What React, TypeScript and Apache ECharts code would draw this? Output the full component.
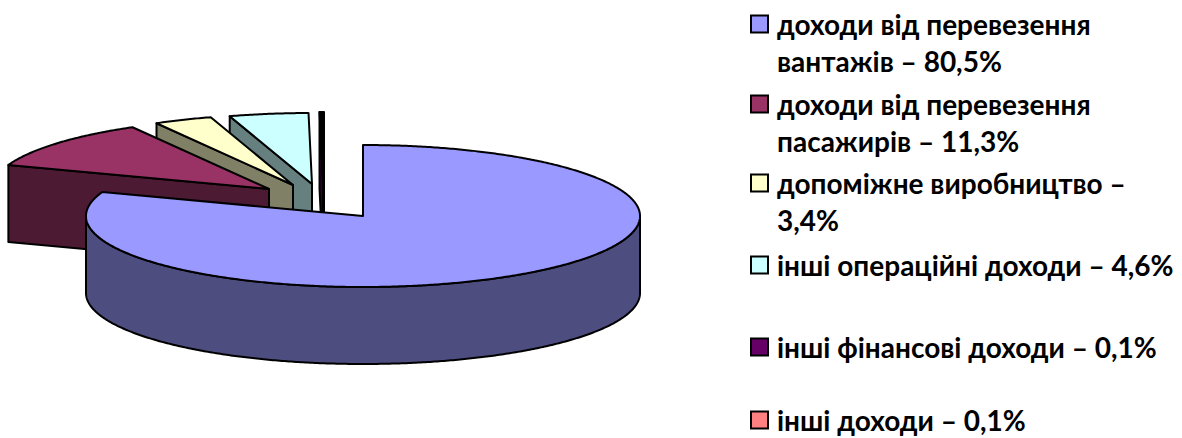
import React, { useEffect, useRef } from 'react';
import * as echarts from 'echarts';

// ---- data ----
const CATEGORIES = [
  'доходи від перевезення вантажів',
  'доходи від перевезення пасажирів',
  'допоміжне виробництво',
  'інші операційні доходи',
  'інші фінансові доходи',
  'інші доходи',
];
const SHARES = [80.5, 11.3, 3.4, 4.6, 0.1, 0.1];
const SHARE_LABELS = ['80,5%', '11,3%', '3,4%', '4,6%', '0,1%', '0,1%'];
// words after which the legend text wraps (0 = single line)
const WRAP_AFTER_WORDS = [3, 3, 3, 0, 0, 0];

// ---- style ----
const TOP_COLORS = ['#9999FF', '#993366', '#FFFFCC', '#CCFFFF', '#660066', '#FF8080'];
// exploded offsets of each slice on screen (px)
const EXPLODE: [number, number][] = [
  [0, 0],
  [-94, -27],
  [-70, -31],
  [-51, -32],
  [-40, -33],
  [-39, -33],
];
const CX = 363;
const CY = 216;
const RX = 277;
const RY = 71;
const DEPTH = 77;
const FONT = 'Lato, "Noto Sans", sans-serif';
const FONT_SIZE = 28;
const LINE_H = 37;
const LINE_H_SINGLE = 30;
const LEGEND_LEFT = 750;
const LEGEND_FIRST_LINE_Y = [24, 104, 183, 265, 347, 420];

const TOTAL = SHARES.reduce((s, v) => s + v, 0);
const STARTS = SHARES.map((_, i) => SHARES.slice(0, i).reduce((s, v) => s + v, 0));

function shade(hex: string, f: number): string {
  const n = parseInt(hex.slice(1), 16);
  const r = Math.round(((n >> 16) & 255) * f);
  const g = Math.round(((n >> 8) & 255) * f);
  const b = Math.round((n & 255) * f);
  return `rgb(${r},${g},${b})`;
}

// two-line entries get a leading empty line so the icon sits beside the first line
function legendText(i: number): string {
  const words = `${CATEGORIES[i]} – ${SHARE_LABELS[i]}`.split(' ');
  const k = WRAP_AFTER_WORDS[i];
  if (!k) return words.join(' ');
  return '\n' + words.slice(0, k).join(' ') + '\n' + words.slice(k).join(' ');
}

const makeRender = (i: number) => (params: any, api: any) => {
  const share = api.value(0) as number;
  const start = api.value(1) as number;
  const a = (start / TOTAL) * Math.PI * 2;
  const b = ((start + share) / TOTAL) * Math.PI * 2;
  const [ox, oy] = EXPLODE[i];
  const pt = (t: number, z: number) => [CX + ox + RX * Math.sin(t), CY + oy - RY * Math.cos(t) + z];
  const apex = (z: number) => [CX + ox, CY + oy + z];
  const arc = (t0: number, t1: number, z: number) => {
    const n = Math.max(2, Math.ceil((t1 - t0) / (Math.PI / 360)));
    const out: number[][] = [];
    for (let k = 0; k <= n; k++) out.push(pt(t0 + ((t1 - t0) * k) / n, z));
    return out;
  };
  const topColor = api.visual('color') || TOP_COLORS[i];
  const sideColor = shade(TOP_COLORS[i], 0.5);
  const line = { stroke: '#000', lineWidth: 2, lineJoin: 'round' };
  const rank = i === 0 ? 100 : 10 - i; // back slices first
  const children: any[] = [];
  // start radial face
  if (a > Math.PI && a < Math.PI * 2) {
    children.push({
      type: 'polygon',
      z2: rank * 10 + 1,
      shape: { points: [apex(0), pt(a, 0), pt(a, DEPTH), apex(DEPTH)] },
      style: { fill: sideColor, ...line },
    });
  }
  // end radial face
  if (b > 0 && b < Math.PI) {
    children.push({
      type: 'polygon',
      z2: rank * 10 + 1,
      shape: { points: [apex(0), pt(b, 0), pt(b, DEPTH), apex(DEPTH)] },
      style: { fill: sideColor, ...line },
    });
  }
  // front outer wall
  const s = Math.max(a, Math.PI / 2);
  const e = Math.min(b, (Math.PI * 3) / 2);
  if (e > s) {
    const pts = arc(s, e, 0).concat(arc(s, e, DEPTH).reverse());
    children.push({
      type: 'polygon',
      z2: rank * 10 + 2,
      shape: { points: pts },
      style: { fill: sideColor, ...line },
    });
  }
  // top face
  children.push({
    type: 'polygon',
    z2: rank * 10 + 3,
    shape: { points: [apex(0), ...arc(a, b, 0)] },
    style: { fill: topColor, ...line },
  });
  return { type: 'group', children };
};

export default function App() {
  const ref = useRef<HTMLDivElement>(null);
  useEffect(() => {
    document.body.style.margin = '0';
    if (!ref.current) return;
    const chart = echarts.init(ref.current, null, { renderer: 'svg' });
    chart.setOption({
      animation: false,
      backgroundColor: '#ffffff',
      legend: CATEGORIES.map((name, i) => {
        const multi = !!WRAP_AFTER_WORDS[i];
        const lh = multi ? LINE_H : LINE_H_SINGLE;
        const blockH = multi ? 3 * LINE_H : LINE_H_SINGLE;
        return {
          data: [name],
          orient: 'vertical',
          left: LEGEND_LEFT,
          top: LEGEND_FIRST_LINE_Y[i] - blockH / 2,
          padding: 0,
          icon: 'rect',
          itemWidth: 17,
          itemHeight: 17,
          selectedMode: false,
          itemStyle: { borderColor: '#000', borderWidth: 2 },
          formatter: () => legendText(i),
          textStyle: {
            fontFamily: FONT,
            fontWeight: 'bold',
            fontSize: FONT_SIZE,
            color: '#000',
            lineHeight: lh,
            padding: [0, 0, 0, 4],
          },
        };
      }),
      series: CATEGORIES.map((name, i) => ({
        type: 'custom',
        name,
        coordinateSystem: 'none',
        silent: true,
        z: i === 0 ? 3 : 2,
        itemStyle: { color: TOP_COLORS[i] },
        data: [[SHARES[i], STARTS[i]]],
        renderItem: makeRender(i),
      })),
    });
    return () => chart.dispose();
  }, []);
  return <div ref={ref} style={{ width: 1182, height: 438 }} />;
}
